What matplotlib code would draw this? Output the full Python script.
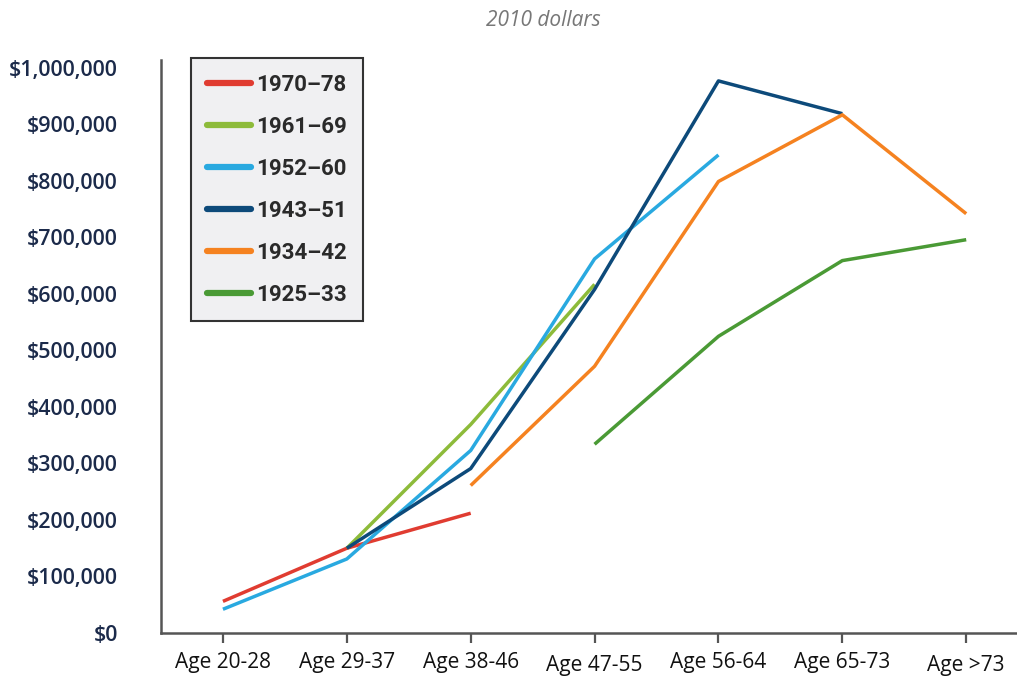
import matplotlib.pyplot as plt
from matplotlib.ticker import FuncFormatter

# Data (2010 dollars)
age_groups = ['Age 20-28', 'Age 29-37', 'Age 38-46', 'Age 47-55',
              'Age 56-64', 'Age 65-73', 'Age >73']
cohorts = ['1970\u201378', '1961\u201369', '1952\u201360', '1943\u201351', '1934\u201342', '1925\u201333']

# (first age index, values)
wealth_1970_78 = [56000, 150000, 212000]
wealth_1961_69 = [150000, 369000, 617000]
wealth_1952_60 = [42000, 131000, 323000, 662000, 846000]
wealth_1943_51 = [150000, 291000, 608000, 977000, 919000]
wealth_1934_42 = [261000, 472000, 799000, 917000, 742000]
wealth_1925_33 = [334000, 525000, 659000, 696000]
start_idx = [0, 1, 0, 1, 2, 3]

series = [wealth_1970_78, wealth_1961_69, wealth_1952_60,
          wealth_1943_51, wealth_1934_42, wealth_1925_33]
colors = ['#e03c31', '#8dbb3a', '#29a9e0', '#0d4a7a', '#f58220', '#4a9a35']

fig = plt.figure(figsize=(10.17, 6.77), dpi=100)
ax = fig.add_axes([161 / 1017, 44 / 677, 1 - 161 / 1017, 573 / 677])

for name, vals, s, c in zip(cohorts, series, start_idx, colors):
    xs = list(range(s, s + len(vals)))
    ax.plot(xs, vals, color=c, lw=2.5, label=name, solid_capstyle='butt')

ax.set_xlim(-0.5, 6.41)
ax.set_ylim(0, 1014000)
ax.set_yticks(range(0, 1000001, 100000))
ax.yaxis.set_major_formatter(FuncFormatter(lambda v, p: f"${v:,.0f}"))
ax.set_xticks(range(len(age_groups)))
ax.set_xticklabels(age_groups)

for sp in ['top', 'right']:
    ax.spines[sp].set_visible(False)
for sp in ['left', 'bottom']:
    ax.spines[sp].set_color('#555555')
    ax.spines[sp].set_linewidth(1.8)

ax.tick_params(axis='y', length=0, pad=31, labelsize=15.5, labelcolor='#1b2a4a')
ax.tick_params(axis='x', length=7, width=1.6, color='#555555', pad=7,
               labelsize=15, labelcolor='#111111')
for lab in ax.get_yticklabels():
    lab.set_fontfamily('Open Sans')
    lab.set_fontweight('semibold')
for i, lab in enumerate(ax.get_xticklabels()):
    lab.set_fontfamily('Open Sans')
    if i in (3, 6):
        lab.set_y(-0.005)

leg = ax.legend(loc='upper left', bbox_to_anchor=(191 / 1017, 1 - 58 / 677),
                bbox_transform=fig.transFigure, borderaxespad=0,
                fancybox=False, frameon=True, handlelength=2.0,
                handletextpad=0.25, labelspacing=0.9, borderpad=0.7,
                prop={'family': 'Roboto', 'weight': 'bold', 'size': 16})
frame = leg.get_frame()
frame.set_facecolor('#f0f0f2')
frame.set_edgecolor('#333333')
frame.set_linewidth(1.5)
frame.set_alpha(1)
for h in leg.get_lines():
    h.set_linewidth(4.5)
    h.set_solid_capstyle('round')
for t in leg.get_texts():
    t.set_color('#2a2a2a')

fig.text(543 / 1017, 1 - 20 / 677, '2010 dollars', ha='center', va='center',
         fontsize=15, style='italic', color='#777777', family='Open Sans')

fig.savefig('out.png', dpi=100)
